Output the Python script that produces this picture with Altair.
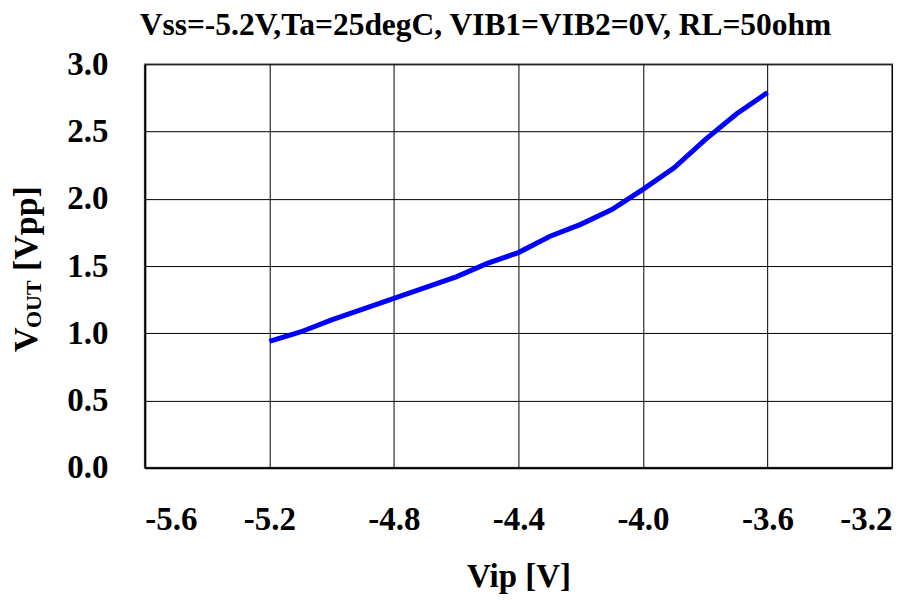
import altair as alt
import pandas as pd

# Data
vip = [-5.2, -5.1, -5.0, -4.9, -4.8, -4.7, -4.6, -4.5, -4.4, -4.3, -4.2, -4.1, -4.0, -3.9, -3.8, -3.7, -3.6]
vout = [0.94, 1.01, 1.10, 1.18, 1.26, 1.34, 1.42, 1.52, 1.60, 1.72, 1.81, 1.92, 2.07, 2.23, 2.44, 2.63, 2.79]
x_ticks = [-5.6, -5.2, -4.8, -4.4, -4.0, -3.6, -3.2]
y_ticks = [0.0, 0.5, 1.0, 1.5, 2.0, 2.5, 3.0]
title_text = "Vss=-5.2V,Ta=25degC, VIB1=VIB2=0V, RL=50ohm"

df = pd.DataFrame({"vip": vip, "vout": vout})

FONT = "Liberation Serif"
label_expr = "replace(format(datum.value, '.1f'), '\u2212', '-')"

line = alt.Chart(df).mark_line(color="#0000FF", strokeWidth=5).encode(
    x=alt.X("vip:Q",
            scale=alt.Scale(domain=[-5.6, -3.2], nice=False, zero=False),
            axis=alt.Axis(values=x_ticks, labelExpr=label_expr, title="Vip [V]",
                          grid=True, gridColor="#000000", gridWidth=1, gridOpacity=1,
                          ticks=False, domain=True, domainColor="#000000", domainWidth=2,
                          labelFont=FONT, labelFontSize=33, labelFontWeight="bold",
                          labelColor="#000000", labelPadding=36,
                          titleFont=FONT, titleFontSize=33, titleFontWeight="bold",
                          titleColor="#000000", titlePadding=24)),
    y=alt.Y("vout:Q",
            scale=alt.Scale(domain=[0, 3], nice=False, zero=True),
            axis=alt.Axis(values=y_ticks, labelExpr=label_expr, title=None,
                          grid=True, gridColor="#000000", gridWidth=1, gridOpacity=1,
                          ticks=False, domain=True, domainColor="#000000", domainWidth=2,
                          labelFont=FONT, labelFontSize=33, labelFontWeight="bold",
                          labelColor="#000000", labelPadding=37)),
)

def text_piece(text, size, xpos, ypos, angle=0, align="left"):
    return alt.Chart(pd.DataFrame({"t": [text]})).mark_text(
        font=FONT, fontSize=size, fontWeight="bold", color="#000000",
        angle=angle, align=align, baseline="alphabetic"
    ).encode(x=alt.value(xpos), y=alt.value(ypos), text="t:N")

# y-axis title with subscript, reading bottom to top
yt_v = text_piece("V", 34, -108, 288, angle=270)
yt_out = text_piece("OUT", 22, -104, 264, angle=270)
yt_rest = text_piece("[Vpp]", 34, -108, 207, angle=270)

# chart title
title = text_piece(title_text, 31.5, 341, -29, align="center")

chart = alt.layer(line, yt_v, yt_out, yt_rest, title).properties(
    width=748, height=404,
    autosize=alt.AutoSizeParams(type="none"),
    padding={"left": 137, "top": 56, "right": 20, "bottom": 132},
).configure_view(stroke="#808080", strokeWidth=2)

chart.save("out.html", embed_options={"renderer": "svg", "actions": False})
